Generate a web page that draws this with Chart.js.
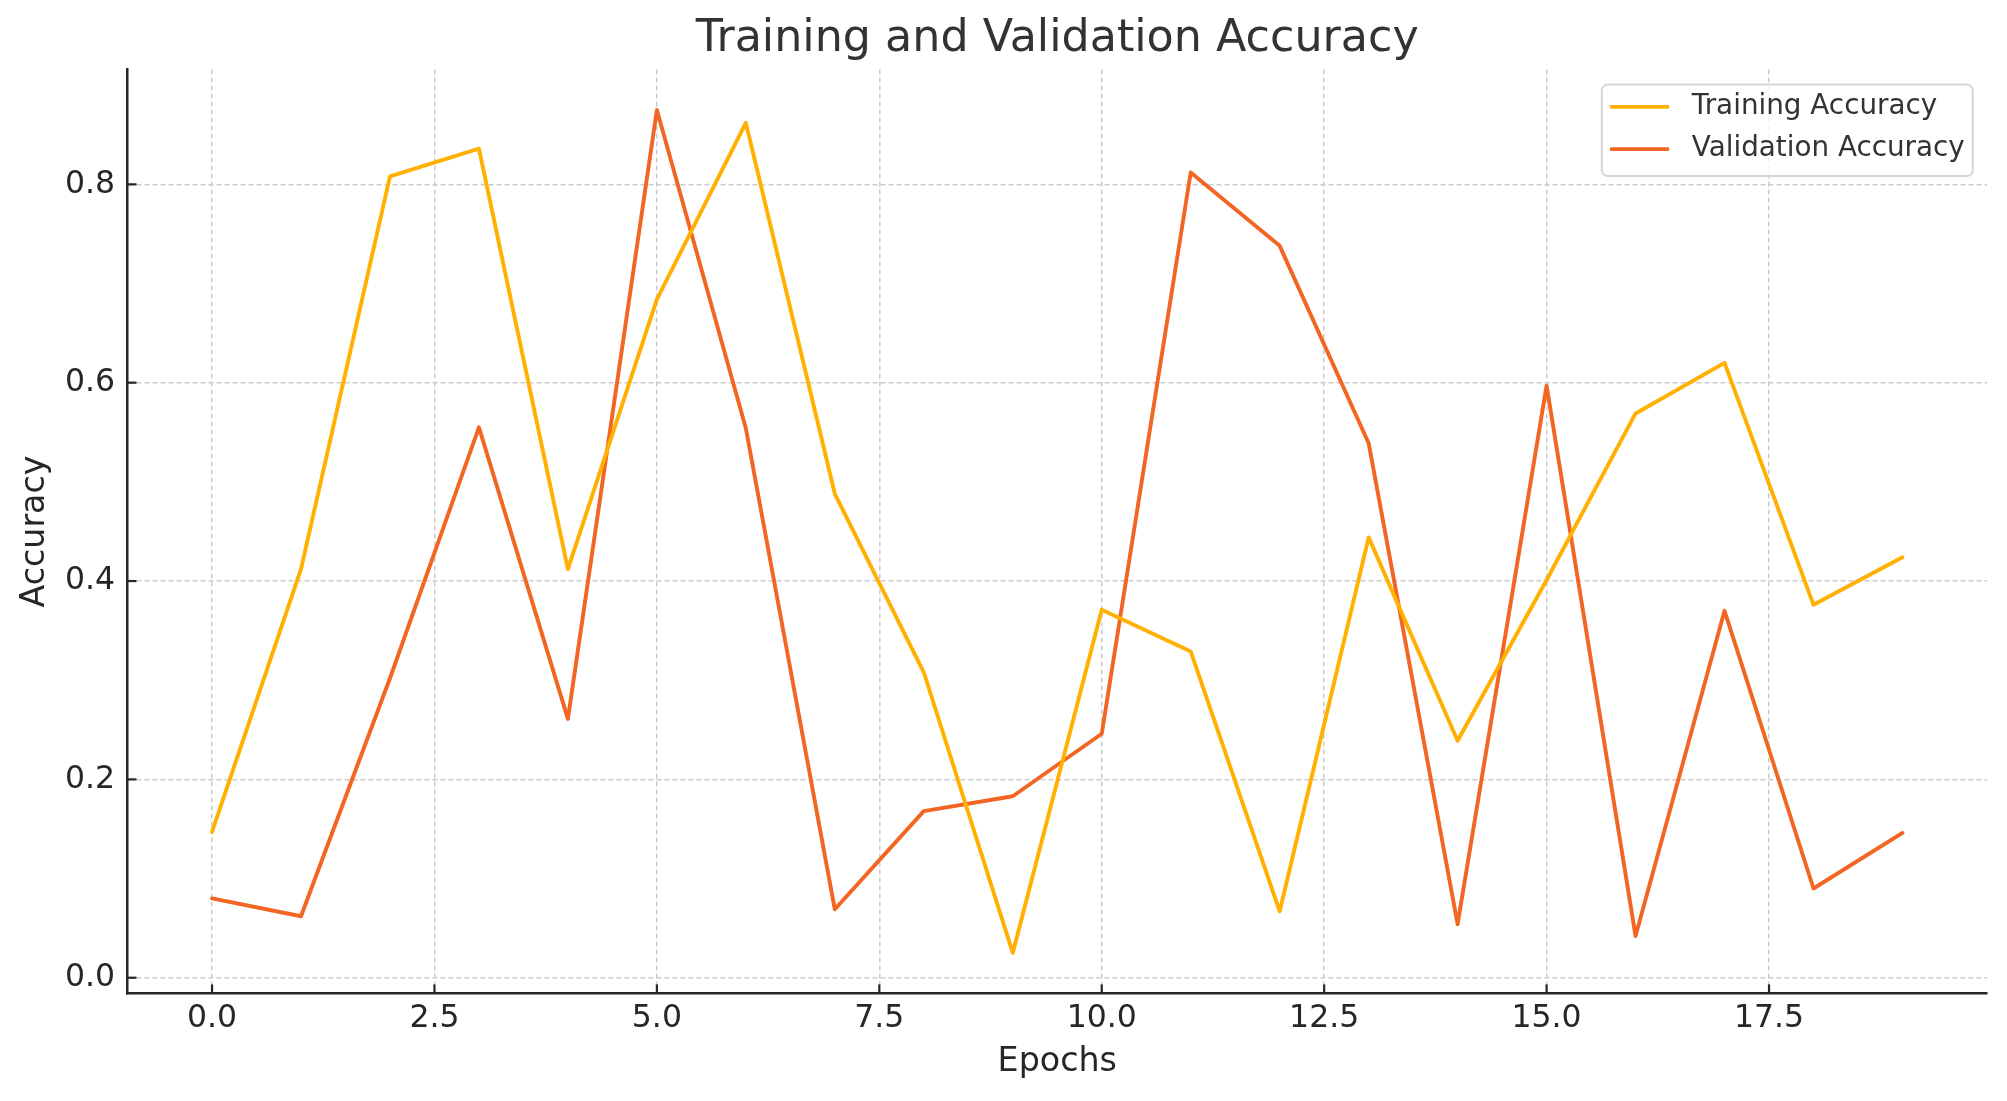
<!DOCTYPE html>
<html>
<head>
<meta charset="utf-8">
<script src="https://cdn.jsdelivr.net/npm/chart.js@4.4.0/dist/chart.umd.min.js"></script>
<style>
  html, body { margin: 0; padding: 0; background: #ffffff; }
  #wrap { width: 2007px; height: 1101px; position: relative; }
</style>
</head>
<body>
<div id="wrap"><canvas id="c"></canvas></div>
<script>
// ---- data ----
const epochs = [0,1,2,3,4,5,6,7,8,9,10,11,12,13,14,15,16,17,18,19];
const trainingAccuracy = [0.147, 0.412, 0.808, 0.836, 0.412, 0.684, 0.862, 0.488, 0.308, 0.025,
                          0.371, 0.329, 0.067, 0.444, 0.239, 0.401, 0.569, 0.620, 0.376, 0.424];
const validationAccuracy = [0.080, 0.062, 0.302, 0.555, 0.261, 0.875, 0.554, 0.069, 0.168, 0.183,
                            0.246, 0.812, 0.738, 0.539, 0.054, 0.597, 0.042, 0.370, 0.090, 0.146];
const xTickValues = [0, 2.5, 5, 7.5, 10, 12.5, 15, 17.5];
const yTickValues = [0, 0.2, 0.4, 0.6, 0.8];
const seriesLabels = ['Training Accuracy', 'Validation Accuracy'];
const titleText = 'Training and Validation Accuracy';
const xTitle = 'Epochs';
const yTitle = 'Accuracy';

// ---- styles ----
const FONT = "'DejaVu Sans', 'Liberation Sans', sans-serif";
const TRAIN_COLOR = '#FFB000';
const VAL_COLOR = '#F26522';
const AXIS_COLOR = '#262626';
const GRID_COLOR = '#cccccc';
const TICK_SIZE = 31.5;
const LABEL_SIZE = 33.3;

const toPoints = (vals) => vals.map((v, i) => ({ x: epochs[i], y: v }));

// title centred over the axes (matplotlib style)
const axesTitle = {
  id: 'axesTitle',
  afterDraw(chart) {
    const { ctx, chartArea } = chart;
    ctx.save();
    ctx.font = '44.4px ' + FONT;
    ctx.fillStyle = '#333333';
    ctx.textAlign = 'center';
    ctx.textBaseline = 'middle';
    ctx.fillText(titleText, (chartArea.left + chartArea.right) / 2, 39.5);
    ctx.restore();
  }
};

// inward tick marks (matplotlib style)
const inwardTicks = {
  id: 'inwardTicks',
  beforeDatasetsDraw(chart) {
    const { ctx, chartArea, scales } = chart;
    ctx.save();
    ctx.strokeStyle = AXIS_COLOR;
    ctx.lineWidth = 2.2;
    const len = 9;
    scales.x.ticks.forEach(t => {
      const px = scales.x.getPixelForValue(t.value);
      ctx.beginPath();
      ctx.moveTo(px, chartArea.bottom);
      ctx.lineTo(px, chartArea.bottom - len);
      ctx.stroke();
    });
    scales.y.ticks.forEach(t => {
      const py = scales.y.getPixelForValue(t.value);
      ctx.beginPath();
      ctx.moveTo(chartArea.left, py);
      ctx.lineTo(chartArea.left + len, py);
      ctx.stroke();
    });
    ctx.restore();
  }
};

// matplotlib-like legend box inside the plot, upper right
const mplLegend = {
  id: 'mplLegend',
  afterDraw(chart) {
    const { ctx, chartArea } = chart;
    const fontSize = 27.8;
    ctx.save();
    ctx.font = fontSize + 'px ' + FONT;
    const items = chart.data.datasets.map(d => ({ label: d.label, color: d.borderColor }));
    const maxW = Math.max(...items.map(it => ctx.measureText(it.label).width));
    const textStart = 90;
    const w = textStart + maxW + 8;
    const h = 91.5;
    const right = chartArea.right - 14.2;
    const left = right - w;
    const top = chartArea.top + 15;
    const r = 6;
    ctx.beginPath();
    ctx.moveTo(left + r, top);
    ctx.lineTo(left + w - r, top);
    ctx.arcTo(left + w, top, left + w, top + r, r);
    ctx.lineTo(left + w, top + h - r);
    ctx.arcTo(left + w, top + h, left + w - r, top + h, r);
    ctx.lineTo(left + r, top + h);
    ctx.arcTo(left, top + h, left, top + h - r, r);
    ctx.lineTo(left, top + r);
    ctx.arcTo(left, top, left + r, top, r);
    ctx.closePath();
    ctx.fillStyle = 'rgba(255,255,255,0.8)';
    ctx.fill();
    ctx.strokeStyle = '#d6d6d6';
    ctx.lineWidth = 2;
    ctx.stroke();
    items.forEach((it, i) => {
      const cy = top + 22.3 + i * 42.3;
      ctx.strokeStyle = it.color;
      ctx.lineWidth = 3.8;
      ctx.beginPath();
      ctx.moveTo(left + 8.3, cy);
      ctx.lineTo(left + 67.3, cy);
      ctx.stroke();
      ctx.fillStyle = '#333333';
      ctx.textBaseline = 'middle';
      ctx.textAlign = 'left';
      ctx.fillText(it.label, left + textStart, cy);
    });
    ctx.restore();
  }
};

new Chart(document.getElementById('c'), {
  type: 'line',
  data: {
    datasets: [
      { label: seriesLabels[0], data: toPoints(trainingAccuracy), borderColor: TRAIN_COLOR, backgroundColor: TRAIN_COLOR },
      { label: seriesLabels[1], data: toPoints(validationAccuracy), borderColor: VAL_COLOR, backgroundColor: VAL_COLOR }
    ]
  },
  options: {
    responsive: true,
    maintainAspectRatio: false,
    devicePixelRatio: 1,
    animation: false,
    elements: {
      point: { radius: 0, hoverRadius: 0 },
      line: { borderWidth: 3.9, tension: 0, borderCapStyle: 'round', borderJoinStyle: 'round' }
    },
    layout: { padding: { top: 69.6, right: 20, bottom: 0, left: 0 } },
    plugins: {
      legend: { display: false },
      tooltip: { enabled: false },
      title: { display: false }
    },
    scales: {
      x: {
        type: 'linear',
        min: -0.95,
        max: 19.95,
        afterBuildTicks: (scale) => { scale.ticks = xTickValues.map(v => ({ value: v })); },
        afterFit: (scale) => { scale.height = 107.6; },
        ticks: {
          color: AXIS_COLOR,
          font: { family: FONT, size: TICK_SIZE },
          padding: 6.3,
          maxRotation: 0,
          autoSkip: false,
          callback: (v) => Number(v).toFixed(1)
        },
        grid: { color: GRID_COLOR, lineWidth: 1.5, drawTicks: false },
        border: { display: true, color: AXIS_COLOR, width: 2.6, dash: [5, 3] },
        title: {
          display: true, text: xTitle, color: AXIS_COLOR,
          font: { family: FONT, size: LABEL_SIZE, lineHeight: 1.2 },
          padding: { top: 0, bottom: 19 }
        }
      },
      y: {
        type: 'linear',
        min: -0.0158,
        max: 0.9157,
        afterBuildTicks: (scale) => { scale.ticks = yTickValues.map(v => ({ value: v })); },
        afterFit: (scale) => { scale.width = 127.5; },
        ticks: {
          color: AXIS_COLOR,
          font: { family: FONT, size: TICK_SIZE },
          padding: 12.5,
          autoSkip: false,
          callback: (v) => Number(v).toFixed(1)
        },
        grid: { color: GRID_COLOR, lineWidth: 1.5, drawTicks: false },
        border: { display: true, color: AXIS_COLOR, width: 2.5, dash: [5, 3] },
        title: {
          display: true, text: yTitle, color: AXIS_COLOR,
          font: { family: FONT, size: LABEL_SIZE, lineHeight: 1.2 },
          padding: { top: 15.3, bottom: 0 }
        }
      }
    }
  },
  plugins: [inwardTicks, mplLegend, axesTitle]
});
</script>
</body>
</html>
